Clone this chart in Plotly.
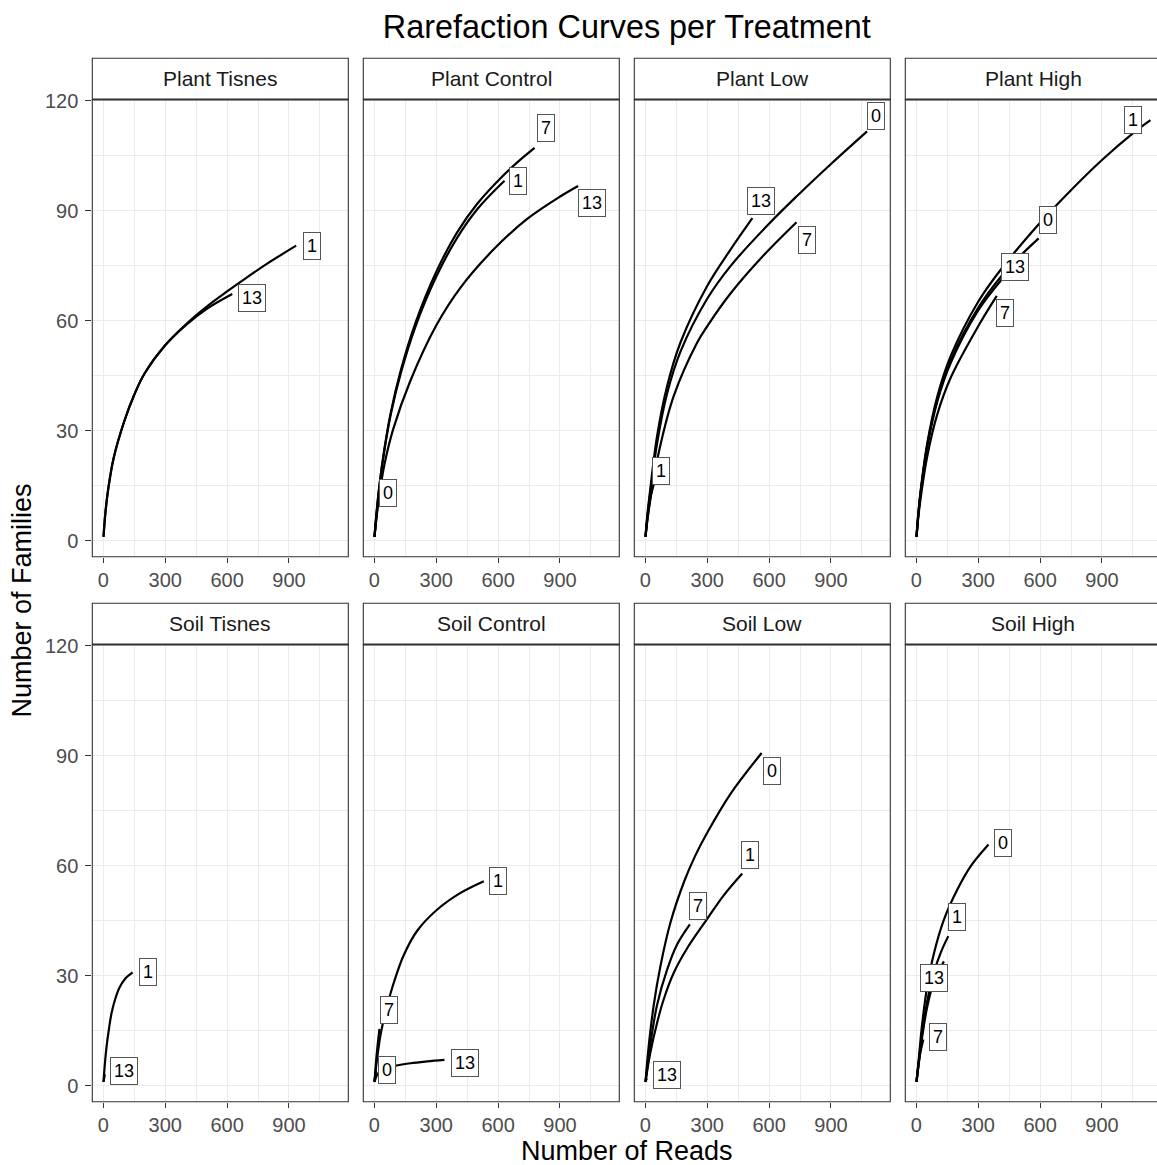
import plotly.graph_objects as go

# ---------------- data ----------------
panels = ["Plant Tisnes", "Plant Control", "Plant Low", "Plant High",
          "Soil Tisnes", "Soil Control", "Soil Low", "Soil High"]

x_ticks = [0, 300, 600, 900]
y_ticks = [0, 30, 60, 90, 120]

# reads (x) and families (y) per sampling day, one pair of dicts per panel
plant_tisnes_reads = {
    "1": [1, 10, 25, 50, 100, 150, 200, 300, 400, 500, 600, 700, 800, 935],
    "13": [1, 10, 25, 50, 100, 150, 200, 300, 400, 500, 625],
}
plant_tisnes_fam = {
    "1": [1, 7.5, 14.5, 22.5, 32.3, 39.8, 45.6, 53.3, 59, 63.8, 68, 72, 75.8, 80.5],
    "13": [1, 7.5, 14.5, 22.5, 32.3, 39.8, 45.6, 53.3, 58.8, 63.2, 67.3],
}

plant_control_reads = {
    "0": [1, 8, 15, 22],
    "1": [1, 10, 25, 50, 80, 130, 200, 300, 400, 500, 631],
    "7": [1, 10, 25, 50, 80, 130, 200, 300, 400, 500, 631, 700, 777],
    "13": [1, 10, 25, 50, 92, 174, 300, 417, 579, 741, 903, 988],
}
plant_control_fam = {
    "0": [1, 5, 9, 12],
    "1": [1, 7, 15, 25, 34.5, 46, 58.5, 72, 82.5, 90.5, 98.2],
    "7": [1, 7, 15.2, 25.4, 35, 46.8, 59.5, 73.3, 84, 92, 100, 103.6, 107.2],
    "13": [1, 6, 12.5, 21, 30.5, 43.5, 58.7, 69, 79.5, 87.8, 94, 96.8],
}

plant_low_reads = {
    "0": [1, 10, 24, 57, 105, 170, 300, 414, 600, 738, 900, 1075],
    "1": [1, 15, 30, 45],
    "7": [1, 10, 32, 73, 138, 251, 300, 414, 576, 733],
    "13": [1, 10, 24, 57, 105, 170, 300, 414, 519],
}
plant_low_fam = {
    "0": [1, 6.5, 13, 26.5, 40, 51.5, 66, 75, 86.5, 94.2, 102.8, 111.7],
    "1": [1, 8, 13, 16],
    "7": [1, 5.5, 14, 26, 39.5, 54, 58.5, 67.5, 78, 86.9],
    "13": [1, 7, 14, 28.5, 42, 54, 69.5, 79.5, 88],
}

plant_high_reads = {
    "0": [1, 10, 21, 53, 102, 167, 300, 410, 500, 593],
    "1": [1, 10, 21, 53, 102, 167, 300, 410, 601, 733, 900, 1057, 1135],
    "7": [1, 10, 21, 53, 102, 167, 300, 390],
    "13": [1, 10, 21, 53, 102, 167, 300, 410, 515],
}
plant_high_fam = {
    "0": [1, 7.3, 13.2, 26, 38.5, 49.2, 63.5, 72, 77.5, 82.5],
    "1": [1, 7.5, 13.6, 26.5, 39.4, 50.4, 65.2, 74, 86.8, 94.7, 103.9, 111.5, 114.8],
    "7": [1, 6.5, 11.5, 23, 34.5, 44.5, 58.5, 66.8],
    "13": [1, 7.2, 13, 25.5, 38, 48.5, 62.8, 71, 77.5],
}

soil_tisnes_reads = {
    "1": [1, 8, 16, 27, 40, 57, 78, 105, 142],
    "13": [1, 4, 8],
}
soil_tisnes_fam = {
    "1": [1, 6.2, 10.7, 15.3, 19.8, 23.5, 26.7, 29.1, 30.9],
    "13": [1, 2, 3],
}

soil_control_reads = {
    "0": [1, 4, 8],
    "1": [1, 13, 32, 62, 94, 142, 207, 304, 418, 531],
    "7": [1, 5, 10, 18, 25],
    "13": [1, 10, 21, 50, 94, 175, 256, 340],
}
soil_control_fam = {
    "0": [1, 2.5, 4],
    "1": [1, 7.1, 14.4, 21.7, 28, 35.5, 42.2, 48, 52.6, 55.8],
    "7": [1, 4, 7.5, 12, 15.5],
    "13": [1, 2.5, 3.5, 4.5, 5.3, 6.1, 6.6, 7],
}

soil_low_reads = {
    "0": [1, 16, 41, 73, 122, 187, 240, 300, 414, 564],
    "1": [1, 24, 57, 89, 138, 203, 300, 381, 470],
    "7": [1, 24, 57, 105, 154, 216],
    "13": [1, 4, 8],
}
soil_low_fam = {
    "0": [1, 10.5, 22, 32.5, 44.5, 55.5, 62.5, 69, 79.7, 90.8],
    "1": [1, 8.9, 17.1, 23.5, 30.8, 37.5, 45.5, 52, 57.9],
    "7": [1, 11, 22, 31.5, 38.5, 44],
    "13": [1, 1.5, 2],
}

soil_high_reads = {
    "0": [1, 13, 29, 53, 86, 134, 199, 264, 350],
    "1": [1, 13, 29, 53, 86, 120, 155],
    "7": [1, 8, 18, 34],
    "13": [1, 13, 29, 53, 86, 134],
}
soil_high_fam = {
    "0": [1, 8, 17.1, 27.1, 36.2, 45.3, 53.5, 59.9, 65.8],
    "1": [1, 7, 14.5, 23, 31, 36.5, 40.8],
    "7": [1, 4.5, 8.5, 12.6],
    "13": [1, 6.5, 13.5, 21.5, 28.5, 33.9],
}

panel_reads = [plant_tisnes_reads, plant_control_reads, plant_low_reads, plant_high_reads,
               soil_tisnes_reads, soil_control_reads, soil_low_reads, soil_high_reads]
panel_fam = [plant_tisnes_fam, plant_control_fam, plant_low_fam, plant_high_fam,
             soil_tisnes_fam, soil_control_fam, soil_low_fam, soil_high_fam]

# ---------------- label placement (pixel offsets from curve end) ----------------
label_shift = {
    ("Plant Tisnes", "1"): (16, 0), ("Plant Tisnes", "13"): (20, -4),
    ("Plant Control", "0"): (9, 4), ("Plant Control", "1"): (14, 0),
    ("Plant Control", "7"): (11, 20), ("Plant Control", "13"): (14, -17),
    ("Plant Low", "0"): (9, 15), ("Plant Low", "1"): (6, 11),
    ("Plant Low", "7"): (10, -18), ("Plant Low", "13"): (9, 17),
    ("Plant High", "0"): (9, 18), ("Plant High", "1"): (-17, 0),
    ("Plant High", "7"): (8, -17), ("Plant High", "13"): (-8, -10),
    ("Soil Tisnes", "1"): (15, 0), ("Soil Tisnes", "13"): (19, 4),
    ("Soil Control", "0"): (11, 1), ("Soil Control", "1"): (14, 0),
    ("Soil Control", "7"): (10, 19), ("Soil Control", "13"): (21, -3),
    ("Soil Low", "0"): (10, -18), ("Soil Low", "1"): (8, 18),
    ("Soil Low", "7"): (8, 18), ("Soil Low", "13"): (20, 3),
    ("Soil High", "0"): (15, 2), ("Soil High", "1"): (9, 19),
    ("Soil High", "13"): (-10, -17), ("Soil High", "7"): (15, 2),
}

# ---------------- geometry ----------------
W, H = 1157, 1165
FONT = "Liberation Sans, Arial, Helvetica, sans-serif"
col_left = [92.3, 363.3, 634.3, 905.3]
panel_w = 256.0
row_top = [99.5, 644.5]
panel_h = 457.2
strip_h = 41.2
x_lo, x_hi = -53.3, 1187.6
y_lo, y_hi = -4.4, 120.4
px_per_x = panel_w / (x_hi - x_lo)

fig = go.Figure()
shapes = []
annotations = []

for i, name in enumerate(panels):
    r, c = divmod(i, 4)
    k = i + 1
    xa = "x" if k == 1 else f"x{k}"
    ya = "y" if k == 1 else f"y{k}"
    left = col_left[c]
    right = left + panel_w
    vis_right = min(right, W)
    top = row_top[r]
    bottom = top + panel_h

    axis_common = dict(
        showgrid=True, gridcolor="#EBEBEB", gridwidth=1.1, zeroline=False,
        showline=False, ticklen=6, tickwidth=1.1, tickcolor="#333333",
        tickfont=dict(family=FONT, size=20, color="#4D4D4D"), automargin=False,
    )
    fig.layout[f"xaxis{'' if k == 1 else k}"] = dict(
        axis_common, domain=[left / W, vis_right / W],
        range=[x_lo, x_lo + (vis_right - left) / px_per_x],
        anchor=ya, tickmode="array", tickvals=x_ticks, ticktext=[str(v) for v in x_ticks],
        ticks="outside", ticklen=5,
        minor=dict(tickmode="array", tickvals=[150, 450, 750, 1050], showgrid=True,
                   gridcolor="#EBEBEB", gridwidth=0.6),
    )
    fig.layout[f"yaxis{'' if k == 1 else k}"] = dict(
        axis_common, domain=[1 - bottom / H, 1 - top / H], range=[y_lo, y_hi],
        anchor=xa, tickmode="array", tickvals=y_ticks, ticktext=[str(v) for v in y_ticks],
        showticklabels=(c == 0), ticks="outside" if c == 0 else "",
        ticklabelstandoff=3,
        minor=dict(tickmode="array", tickvals=[15, 45, 75, 105], showgrid=True,
                   gridcolor="#EBEBEB", gridwidth=0.6),
    )

    reads = panel_reads[i]
    fams = panel_fam[i]
    for day in reads:
        xs, ys = reads[day], fams[day]
        fig.add_trace(go.Scatter(
            x=xs, y=ys, mode="lines", xaxis=xa, yaxis=ya,
            line=dict(color="black", width=2.2, shape="spline", smoothing=1.0),
            showlegend=False, hoverinfo="skip",
        ))
        dx, dy = label_shift[(name, day)]
        annotations.append(dict(
            x=xs[-1], y=ys[-1], xref=xa, yref=ya, text=day, showarrow=False,
            xshift=dx, yshift=dy, xanchor="center", yanchor="middle",
            font=dict(family=FONT, size=18, color="black"),
            bgcolor="white", bordercolor="#555555", borderwidth=1, borderpad=3,
        ))

    x0p, x1p = left / W, right / W
    # strip
    shapes.append(dict(type="rect", xref="paper", yref="paper",
                       x0=x0p, x1=x1p, y0=1 - top / H, y1=1 - (top - strip_h) / H,
                       fillcolor="white", line=dict(color="#333333", width=1.1), layer="above"))
    shapes.append(dict(type="line", xref="paper", yref="paper",
                       x0=x0p, x1=x1p, y0=1 - top / H, y1=1 - top / H,
                       line=dict(color="#333333", width=2.2), layer="above"))
    # panel border
    shapes.append(dict(type="rect", xref="paper", yref="paper",
                       x0=x0p, x1=x1p, y0=1 - bottom / H, y1=1 - top / H,
                       fillcolor="rgba(0,0,0,0)", line=dict(color="#333333", width=1.1),
                       layer="above"))
    annotations.append(dict(
        x=(left + panel_w / 2) / W, y=1 - (top - strip_h / 2) / H, xref="paper", yref="paper",
        text=name, showarrow=False, xanchor="center", yanchor="middle",
        font=dict(family=FONT, size=21, color="#1A1A1A"),
    ))

center_x = (col_left[0] + col_left[3] + panel_w) / 2
annotations.append(dict(
    x=center_x / W, y=1 - 1151 / H, xref="paper", yref="paper", text="Number of Reads",
    showarrow=False, xanchor="center", yanchor="middle",
    font=dict(family=FONT, size=27, color="black"),
))
annotations.append(dict(
    x=22 / W, y=1 - 600.6 / H, xref="paper", yref="paper",
    text="Number of Families",
    showarrow=False, xanchor="center", yanchor="middle", textangle=-90,
    font=dict(family=FONT, size=27, color="black"),
))

fig.update_layout(
    width=W, height=H,
    margin=dict(l=0, r=0, t=0, b=0, pad=0, autoexpand=False),
    paper_bgcolor="white", plot_bgcolor="white",
    title=dict(text="Rarefaction Curves per Treatment", x=center_x / W, y=1 - 27 / H,
               xanchor="center", yanchor="middle", xref="paper", yref="container",
               font=dict(family=FONT, size=32.4, color="black")),
    shapes=shapes, annotations=annotations, showlegend=False,
)

fig.write_html(
    "out.html",
    config={"displayModeBar": False},
    post_script="document.body.style.margin='0';document.body.style.overflow='hidden';",
)
